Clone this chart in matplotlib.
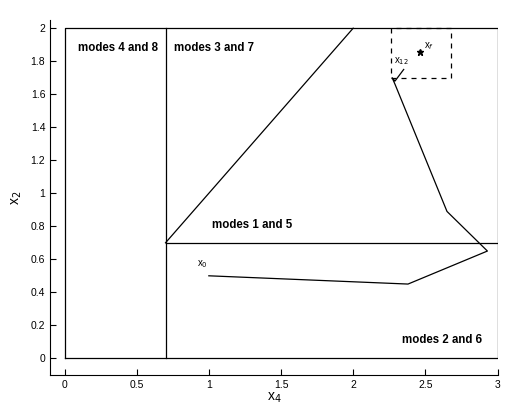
import matplotlib.pyplot as plt
import numpy as np

plt.rcParams['font.family'] = ['Liberation Sans', 'DejaVu Sans']

# region boundaries
border_x = [0, 3, 3, 0, 0]
border_y = [0, 0, 2, 2, 0]
vert_x = [0.7, 0.7]
vert_y = [0, 2]
horiz_x = [0.7, 3]
horiz_y = [0.7, 0.7]
diag_x = [0.7, 2]
diag_y = [0.7, 2]

# trajectory
traj_x = [1.0, 2.38, 2.93, 2.65, 2.29, 2.27, 2.29, 2.35]
traj_y = [0.50, 0.45, 0.65, 0.89, 1.66, 1.70, 1.68, 1.75]

# target box and final point
box_x = [2.26, 2.68, 2.68, 2.26, 2.26]
box_y = [1.70, 1.70, 2.0, 2.0, 1.70]
xf = (2.465, 1.855)

region_labels = [
    (0.09, 1.88, 'modes 4 and 8'),
    (0.76, 1.88, 'modes 3 and 7'),
    (1.02, 0.81, 'modes 1 and 5'),
    (2.34, 0.11, 'modes 2 and 6'),
]

fig = plt.figure(figsize=(5.11, 4.07), dpi=100)
ax = fig.add_axes([0.098, 0.079, 0.877, 0.872])

lw = 0.9
ax.plot(border_x, border_y, 'k-', lw=lw)
ax.plot(vert_x, vert_y, 'k-', lw=lw)
ax.plot(horiz_x, horiz_y, 'k-', lw=lw)
ax.plot(diag_x, diag_y, 'k-', lw=lw)
ax.plot(traj_x, traj_y, 'k-', lw=lw)
ax.plot(box_x, box_y, 'k--', lw=lw, dashes=(4, 4))
ax.plot(xf[0], xf[1], 'k*', ms=5)

for x, y, s in region_labels:
    ax.text(x, y, s, fontsize=8.3, fontweight='bold', va='center', ha='left')

ax.text(0.92, 0.56, r'x$_0$', fontsize=7)
ax.text(2.285, 1.785, r'x$_{12}$', fontsize=7)
ax.text(2.49, 1.88, r'x$_f$', fontsize=7)

ax.set_xlim(-0.1, 3.005)
ax.set_ylim(-0.1, 2.05)
ax.set_xticks(np.arange(0, 3.01, 0.5))
ax.set_xticklabels(['0', '0.5', '1', '1.5', '2', '2.5', '3'])
ax.set_yticks(np.arange(0, 2.01, 0.2))
ax.set_yticklabels(['0', '0.2', '0.4', '0.6', '0.8', '1', '1.2', '1.4', '1.6', '1.8', '2'])
ax.tick_params(direction='in', length=4, labelsize=7.5, width=0.8)
ax.spines['top'].set_visible(False)
ax.spines['right'].set_visible(False)
ax.set_xlabel(r'x$_4$', fontsize=10, labelpad=1)
ax.set_ylabel(r'x$_2$', fontsize=10, labelpad=5)

fig.savefig('out.png', dpi=100)
